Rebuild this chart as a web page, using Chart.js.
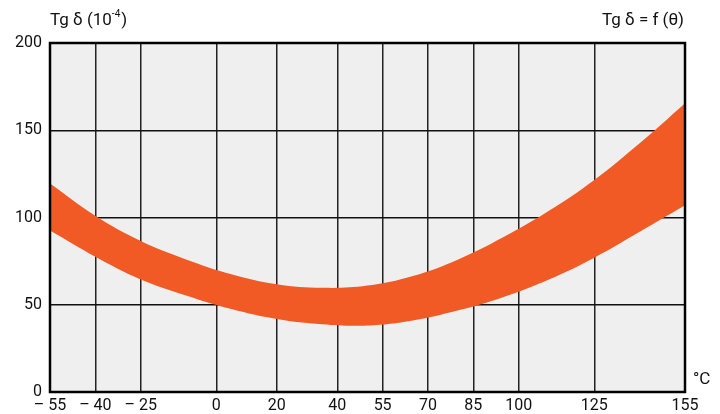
<!DOCTYPE html>
<html>
<head>
<meta charset="utf-8">
<script src="https://cdn.jsdelivr.net/npm/chart.js@4"></script>
<style>
  html, body { margin: 0; padding: 0; background: #fff; }
  #wrap { width: 720px; height: 414px; }
</style>
</head>
<body>
<div id="wrap"><canvas id="tg_chart"></canvas></div>
<script>
// temperature (°C) where the band edges were read
const temps = [-55, -40, -25, -10, 5, 20, 35, 50, 65, 80, 95, 110, 125, 140, 155];
// upper and lower edge of the Tg δ band (10^-4)
const upperTg = [119.5, 101, 86.5, 76, 67.5, 61.8, 59.7, 61, 66.5, 76, 88.8, 103.8, 121.5, 142.5, 165.5];
const lowerTg = [92.5, 77.5, 64.5, 55.3, 47.5, 41.8, 38.8, 38.1, 41, 46.8, 54.5, 64.5, 77, 91.8, 107];

const xTicks = [-55, -40, -25, 0, 20, 40, 55, 70, 85, 100, 125, 155];
const xTickLabels = ['– 55', '– 40', '– 25', '0', '20', '40', '55', '70', '85', '100', '125', '155'];
const yTicks = [0, 50, 100, 150, 200];

const orange = '#F15A24';
const fontFam = 'Roboto, "Liberation Sans", sans-serif';

const frame = {
  id: 'frame',
  beforeDraw(chart) {
    const a = chart.chartArea, c = chart.ctx;
    c.save();
    c.fillStyle = '#EFEFEF';
    c.fillRect(a.left, a.top, a.right - a.left, a.bottom - a.top);
    c.restore();
  },
  afterDraw(chart) {
    const a = chart.chartArea, c = chart.ctx;
    c.save();
    c.strokeStyle = '#000';
    c.lineWidth = 2.5;
    c.strokeRect(a.left, a.top, a.right - a.left, a.bottom - a.top);
    c.fillStyle = '#111';
    c.font = '17px ' + fontFam;
    c.textBaseline = 'alphabetic';
    c.textAlign = 'left';
    c.fillText('Tg δ (10', 50, 25);
    let w = c.measureText('Tg δ (10').width;
    c.font = '10px ' + fontFam;
    c.fillText('-4', 50 + w, 17);
    let w2 = c.measureText('-4').width;
    c.font = '17px ' + fontFam;
    c.fillText(')', 50 + w + w2 + 1, 25);
    c.textAlign = 'right';
    c.fillText('Tg δ = f (θ)', 684, 25);
    c.textAlign = 'left';
    c.fillText('°C', 693, 384);
    c.restore();
  }
};

new Chart(document.getElementById('tg_chart'), {
  type: 'line',
  data: {
    datasets: [{
      label: 'upper',
      data: temps.map((t, i) => ({x: t, y: upperTg[i]})),
      borderWidth: 0,
      pointRadius: 0,
      tension: 0.4,
      fill: '+1',
      backgroundColor: orange
    }, {
      label: 'lower',
      data: temps.map((t, i) => ({x: t, y: lowerTg[i]})),
      borderWidth: 0,
      pointRadius: 0,
      tension: 0.4,
      fill: false
    }]
  },
  options: {
    responsive: true,
    maintainAspectRatio: false,
    animation: false,
    layout: { padding: { top: 43, right: 35, left: 0, bottom: 0 } },
    plugins: {
      legend: { display: false },
      tooltip: { enabled: false }
    },
    scales: {
      x: {
        type: 'linear',
        min: -55,
        max: 155,
        afterBuildTicks: (s) => { s.ticks = xTicks.map(v => ({value: v})); },
        afterFit: (s) => { s.height = 22; },
        grid: { color: '#222', lineWidth: 1.5, drawTicks: false },
        border: { display: false },
        ticks: {
          autoSkip: false,
          maxRotation: 0,
          padding: 4,
          color: '#111',
          font: { family: fontFam, size: 16 },
          callback: (v) => xTickLabels[xTicks.indexOf(v)]
        }
      },
      y: {
        min: 0,
        max: 200,
        afterBuildTicks: (s) => { s.ticks = yTicks.map(v => ({value: v})); },
        afterFit: (s) => { s.width = 50; },
        grid: { color: '#111', lineWidth: 1.5, drawTicks: false },
        border: { display: false },
        ticks: {
          padding: 8,
          color: '#111',
          font: { family: fontFam, size: 16 }
        }
      }
    }
  },
  plugins: [frame]
});
</script>
</body>
</html>
